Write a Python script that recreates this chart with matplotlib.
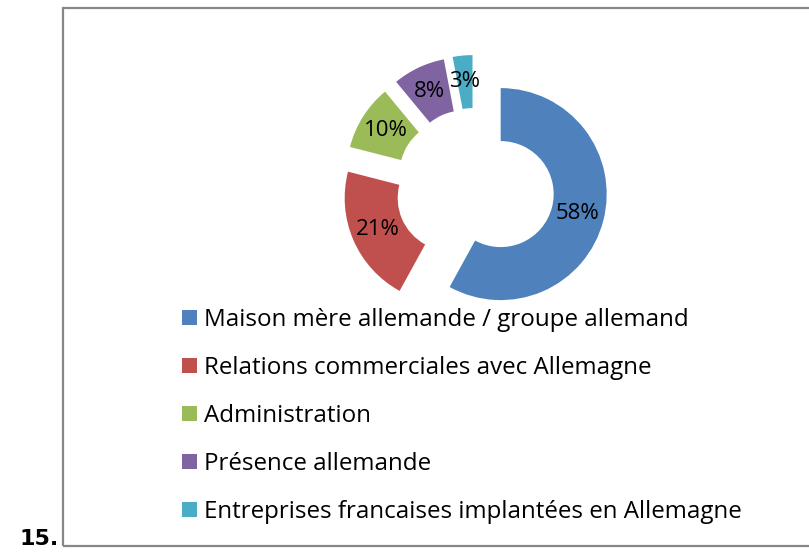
import matplotlib
matplotlib.use('Agg')
import matplotlib.pyplot as plt
from matplotlib.patches import Rectangle

# --- data ---
categories = [
    'Maison mère allemande / groupe allemand',
    'Relations commerciales avec Allemagne',
    'Administration',
    'Présence allemande',
    'Entreprises francaises implantées en Allemagne',
]
shares = [58, 21, 10, 8, 3]
colors = ['#4F81BD', '#C0504D', '#9BBB59', '#8064A2', '#4BACC6']

W, H = 809, 552
plt.rcParams['font.family'] = ['Open Sans', 'DejaVu Sans']

fig = plt.figure(figsize=(W / 100, H / 100), dpi=100)

# frame around the chart area (right edge falls outside the image)
fig.add_artist(Rectangle((63 / W, (H - 546) / H), 760 / W, 538 / H,
                         transform=fig.transFigure, fill=False,
                         edgecolor='#878787', linewidth=1.6))

# donut: 1 data unit = 106 px, centre at (475, 187) px from top-left
R = 106
cx, cy = 475, 187.5
ax = fig.add_axes([(cx - 2 * R) / W, (H - cy - 2 * R) / H, 4 * R / W, 4 * R / H])
wedges, texts, autotexts = ax.pie(
    shares, colors=colors, startangle=90, counterclock=False,
    explode=[0.25] * len(shares), radius=1,
    wedgeprops=dict(width=0.5, linewidth=0),
    autopct='%1.0f%%', pctdistance=0.75,
    textprops=dict(fontsize=16, color='black'),
)
ax.set_xlim(-2, 2)
ax.set_ylim(-2, 2)
ax.set_aspect('equal')
ax.axis('off')

fig.legend(wedges, categories, loc='upper left',
           bbox_to_anchor=(182 / W, (H - 308) / H),
           frameon=False, fontsize=17.4,
           handlelength=0.6, handleheight=0.6, handletextpad=0.3,
           labelspacing=0.99, borderpad=0, borderaxespad=0)

fig.text(20 / W, (H - 549) / H, '15.', fontsize=16, fontweight='bold',
         family='DejaVu Sans', va='bottom', ha='left')

fig.savefig('out.png', dpi=100)
